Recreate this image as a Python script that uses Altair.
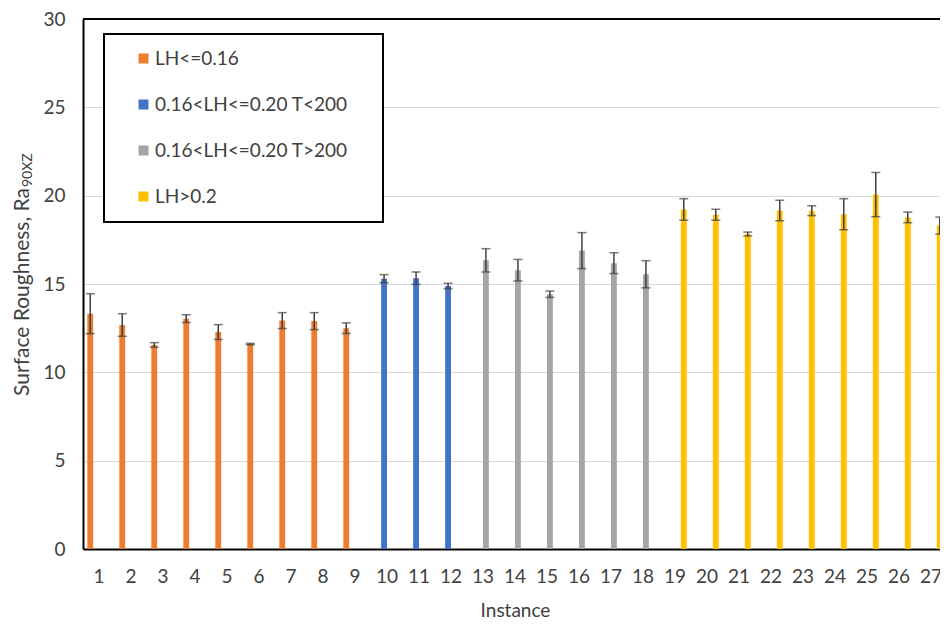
import altair as alt
import pandas as pd

# ---- data ----
instances = list(range(1, 28))
group_names = ["LH<=0.16", "0.16<LH<=0.20 T<200", "0.16<LH<=0.20 T>200", "LH>0.2"]
group_colors = ["#ED7D31", "#4472C4", "#A5A5A5", "#FFC000"]
groups = ([group_names[0]] * 9 + [group_names[1]] * 3 +
          [group_names[2]] * 6 + [group_names[3]] * 9)
means = [13.32, 12.68, 11.55, 13.04, 12.28, 11.60, 12.93, 12.90, 12.50,
         15.30, 15.33, 14.89,
         16.34, 15.78, 14.42, 16.89, 16.18, 15.55,
         19.22, 18.92, 17.83, 19.16, 19.15, 18.95, 20.06, 18.77, 18.31]
errors = [1.13, 0.64, 0.13, 0.22, 0.42, 0.04, 0.45, 0.48, 0.30,
          0.23, 0.35, 0.15,
          0.66, 0.61, 0.18, 1.02, 0.59, 0.77,
          0.61, 0.31, 0.11, 0.58, 0.28, 0.88, 1.25, 0.30, 0.48]
y_ticks = [0, 5, 10, 15, 20, 25, 30]
y_top = [30]

FONT = "Lato"
TXT = "#404040"
FS = 19

df = pd.DataFrame({"Instance": instances, "Group": groups,
                   "Mean": means, "Err": errors})

x_enc = alt.X("Instance:O",
              scale=alt.Scale(domain=instances, range=[0, 864],
                              paddingInner=0, paddingOuter=0),
              axis=alt.Axis(title="Instance", labelAngle=0, ticks=False,
                            domainColor="black", domainWidth=2,
                            labelFontSize=FS, labelFont=FONT, labelColor=TXT,
                            labelPadding=18, titleFontSize=FS, titleFont=FONT,
                            titleColor=TXT, titleFontWeight="normal",
                            titlePadding=15))
xo_enc = alt.XOffset("Group:N",
                     scale=alt.Scale(domain=group_names, paddingInner=0,
                                     paddingOuter=0.74))
y_scale = alt.Scale(domain=[0, 30], nice=False)

base = alt.Chart(df).transform_calculate(
    lo="datum.Mean - datum.Err", hi="datum.Mean + datum.Err"
).encode(x=x_enc, xOffset=xo_enc)

bars = base.mark_bar().encode(
    y=alt.Y("Mean:Q", scale=y_scale,
            axis=alt.Axis(values=y_ticks, title=None, ticks=False,
                          domainColor="black", domainWidth=2,
                          gridColor="#d9d9d9", gridWidth=1,
                          labelFontSize=FS, labelFont=FONT, labelColor=TXT,
                          labelPadding=18)),
    color=alt.Color("Group:N",
                    scale=alt.Scale(domain=group_names, range=group_colors),
                    legend=alt.Legend(title="M", titleOrient="right",
                                      titleOpacity=0, titleFontSize=FS,
                                      titlePadding=4,
                                      orient="none",
                                      legendX=21, legendY=15,
                                      symbolType="square", symbolSize=100,
                                      symbolStrokeWidth=0,
                                      labelFontSize=FS, labelFont=FONT,
                                      labelColor=TXT, labelLimit=400,
                                      rowPadding=26,
                                      padding=15, symbolOffset=15,
                                      labelOffset=2,
                                      strokeColor="black",
                                      fillColor="white")),
)

err_rule = base.mark_rule(color="#404040", strokeWidth=1.5).encode(
    y=alt.Y("lo:Q", scale=y_scale), y2="hi:Q")
cap_lo = base.mark_tick(color="#404040", thickness=1.5, size=9).encode(
    y=alt.Y("lo:Q", scale=y_scale))
cap_hi = base.mark_tick(color="#404040", thickness=1.5, size=9).encode(
    y=alt.Y("hi:Q", scale=y_scale))

top_line = alt.Chart(pd.DataFrame({"v": y_top})).mark_rule(
    color="black", strokeWidth=2).encode(y=alt.Y("v:Q", scale=y_scale))

ytitle_main = alt.Chart(pd.DataFrame({"t": ["Surface Roughness, Ra"]})).mark_text(
    angle=270, align="right", baseline="alphabetic", fontSize=21,
    font=FONT, color=TXT).encode(text="t:N", x=alt.value(-54), y=alt.value(169))
ytitle_sub = alt.Chart(pd.DataFrame({"t": ["90XZ"]})).mark_text(
    angle=270, align="left", baseline="alphabetic", fontSize=14,
    font=FONT, color=TXT).encode(text="t:N", x=alt.value(-51), y=alt.value(168))

chart = alt.layer(bars, err_rule, cap_lo, cap_hi, top_line,
                  ytitle_main, ytitle_sub).properties(
    width=857, height=530,
    autosize=alt.AutoSizeParams(type="none"),
    padding={"left": 75, "top": 11, "right": 0, "bottom": 72},
    background="white",
).configure_view(stroke=None).configure_legend(strokeWidth=2)

chart.save("out.html", embed_options={"renderer": "svg", "actions": False})
